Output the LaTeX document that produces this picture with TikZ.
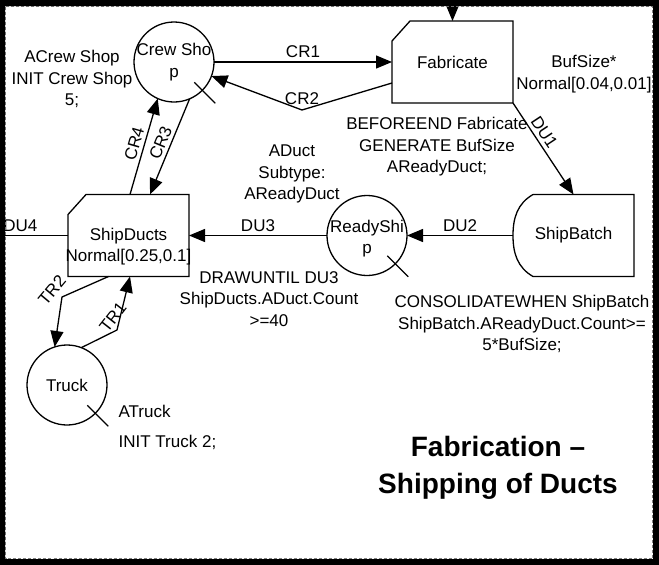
\documentclass[tikz,border=0pt]{standalone}
\usepackage{fontspec}
\setmainfont{Liberation Sans}
\usepackage{tikz}
\usetikzlibrary{arrows.meta,positioning}

\newcommand{\cutbox}[1]{%
  \draw (#1.south west) -- ([yshift=-20pt]#1.north west) -- ([xshift=18pt]#1.north west)
    -- (#1.north east) -- (#1.south east) -- cycle;}
\newcommand{\tally}[1]{%
  \draw ([shift={(-8pt,8pt)}]#1.south east) -- ([shift={(13pt,-13pt)}]#1.south east);}

\begin{document}
\begin{tikzpicture}[x=1pt,y=-1pt,
      place/.style={circle,draw,minimum size=80pt,inner sep=0pt,outer sep=0pt},
      activity/.style={rectangle,minimum width=121pt,minimum height=82pt,
        inner sep=0pt,outer sep=0pt,align=center},
      note/.style={align=center,inner sep=0pt},
      arc/.style={-{Triangle[length=16pt,width=13pt]}},
      line width=1.3pt,
      font=\fontsize{17}{21.5}\selectfont
    ]
    \useasboundingbox (0,0) rectangle (659,565);
    \fill[white] (0,0) rectangle (659,565);

    % places and activities
    \node[place,label={[align=center]center:Crew Sho\\p}] (crew) at (174,62) {};
    \node[activity,right=178pt of crew] (fab) {Fabricate};
    \node[activity,label={[note,yshift=-11pt]center:ShipDucts\\Normal[0.25,0.1]}] (ship) at (128.5,235.5) {};
    \node[place,right=138pt of ship,label={[align=center,yshift=-3pt]center:ReadyShi\\p}] (ready) {};
    \node[activity,right=106pt of ready] (batch) {ShipBatch};
    \node[place] (truck) at (67,385) {Truck};

    \cutbox{fab}
    \cutbox{ship}
    \draw ([xshift=20pt]batch.north west) -- (batch.north east) -- (batch.south east)
      -- ([xshift=20pt]batch.south west) to[out=150,in=-90] (batch.west)
      to[out=90,in=210] ([xshift=20pt]batch.north west);
    \tally{crew}
    \tally{ready}
    \tally{truck}

    % annotations
    \node[note] (crewnote) at (72,79) {ACrew Shop\\INIT Crew Shop\\5;};
    \node[note] (fabnote) at (584,74) {BufSize*\\Normal[0.04,0.01]};
    \node[note] (genote) at (437,147) {BEFOREEND Fabricate\\GENERATE BufSize\\AReadyDuct;};
    \node[note] (ductnote) at (292,174) {ADuct\\Subtype:\\AReadyDuct};
    \node[note] (drawnote) at (269,299) {DRAWUNTIL DU3\\ShipDucts.ADuct.Count\\>=40};
    \node[note] (consnote) at (522,324) {CONSOLIDATEWHEN ShipBatch\\ShipBatch.AReadyDuct.Count>=\\5*BufSize;};
    \node[note,align=left,anchor=west] (trucknote) at (118,427) {ATruck\\[8.5pt]INIT Truck 2;};
    \node[note,font=\fontsize{28}{37}\selectfont\bfseries] (title) at (498,468) {Fabrication --\\Shipping of Ducts};

    % connectors
    \coordinate (fabin) at (452.5,0);
    \coordinate (exit) at (0,235.5);
    \coordinate (cr2bend) at (302,110);
    \coordinate (tr2bend) at (62,297);
    \coordinate (tr1bend) at (117,330);

    \draw[arc] (fabin) -- (fab);
    \draw[arc] (crew) -- node[above]{CR1} (fab);
    \draw[arc] ([yshift=-21pt]fab.west) -- (cr2bend) node[above=1pt]{CR2} -- (crew);
    \draw[arc] (fab.south east) -- node[sloped,above,pos=0.38]{DU1} (batch.north);
    \draw[arc] (batch) -- node[above]{DU2} (ready);
    \draw[arc] (ready) -- node[above]{DU3} (ship);
    \draw (ship) -- node[above,pos=0.7]{DU4} (exit);
    \draw[arc] (crew.293) -- node[sloped,above]{CR3} ([xshift=21.5pt]ship.north);
    \draw[arc] ([xshift=1.5pt]ship.north) -- node[sloped,above]{CR4} (crew.246);
    \draw[arc] ([xshift=-20pt]ship.south) -- (tr2bend) node[xshift=-10pt,yshift=7pt,rotate=50]{TR2} -- (truck.108);
    \draw[arc] (truck.69) -- (tr1bend) node[xshift=-4pt,yshift=13pt,rotate=52]{TR1} -- ([xshift=1.5pt]ship.south);

    % frame
    \draw[gray,line width=0.8pt,dash pattern=on 3pt off 2pt] (5.5,6.5) rectangle (652.5,558.5);
    \fill[black,even odd rule] (0,0) rectangle (659,565) (5,6) rectangle (653,559);
  \end{tikzpicture}
\end{document}
